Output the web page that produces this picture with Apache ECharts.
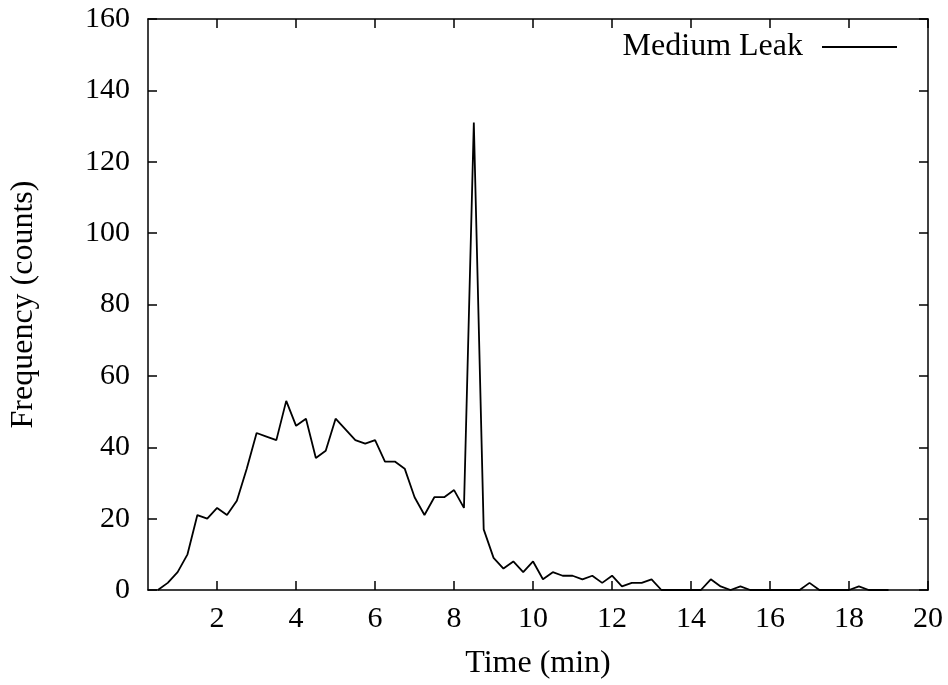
<!DOCTYPE html>
<html>
<head>
<meta charset="utf-8">
<script src="https://cdn.jsdelivr.net/npm/echarts@6/dist/echarts.min.js"></script>
<style>
  html, body { margin: 0; padding: 0; background: #fff; }
  #chart { width: 948px; height: 685px; }
</style>
</head>
<body>
<div id="chart"></div>
<script>
// time (min) of each count bin
const times = [
  0.5, 0.75, 1.0, 1.25, 1.5, 1.75, 2.0, 2.25, 2.5, 2.75,
  3.0, 3.25, 3.5, 3.75, 4.0, 4.25, 4.5, 4.75, 5.0, 5.25,
  5.5, 5.75, 6.0, 6.25, 6.5, 6.75, 7.0, 7.25, 7.5, 7.75,
  8.0, 8.25, 8.5, 8.75, 9.0, 9.25, 9.5, 9.75, 10.0, 10.25,
  10.5, 10.75, 11.0, 11.25, 11.5, 11.75, 12.0, 12.25, 12.5, 12.75,
  13.0, 13.25, 13.5, 13.75, 14.0, 14.25, 14.5, 14.75, 15.0, 15.25,
  15.5, 15.75, 16.0, 16.25, 16.5, 16.75, 17.0, 17.25, 17.5, 17.75,
  18.0, 18.25, 18.5, 18.75, 19.0
];
// frequency (counts), medium leak
const counts = [
  0, 2, 5, 10, 21, 20, 23, 21, 25, 34,
  44, 43, 42, 53, 46, 48, 37, 39, 48, 45,
  42, 41, 42, 36, 36, 34, 26, 21, 26, 26,
  28, 23, 131, 17, 9, 6, 8, 5, 8, 3,
  5, 4, 4, 3, 4, 2, 4, 1, 2, 2,
  3, 0, 0, 0, 0, 0, 3, 1, 0, 1,
  0, 0, 0, 0, 0, 0, 2, 0, 0, 0,
  0, 1, 0, 0, 0
];
const xTicks = [2, 4, 6, 8, 10, 12, 14, 16, 18, 20];
const seriesName = 'Medium Leak';

const chart = echarts.init(document.getElementById('chart'));
const font = 'Liberation Serif';

const lineData = times.map((t, i) => [t, counts[i]]);

const xBase = {
  type: 'value',
  min: 0.25,
  max: 20,
  splitLine: { show: false },
  axisLine: { show: true, onZero: false, lineStyle: { color: '#000', width: 1.5 } },
  axisTick: { inside: true, length: 9, customValues: xTicks, lineStyle: { color: '#000', width: 1.5 } }
};
const yBase = {
  type: 'value',
  min: 0,
  max: 160,
  interval: 20,
  splitLine: { show: false },
  axisLine: { show: true, onZero: false, lineStyle: { color: '#000', width: 1.5 } },
  axisTick: { inside: true, length: 9, lineStyle: { color: '#000', width: 1.5 } }
};

const option = {
  backgroundColor: '#fff',
  animation: false,
  textStyle: { fontFamily: font },
  grid: { left: 146, right: 20, top: 19, bottom: 92, containLabel: false },
  legend: {
    right: 51,
    top: 31,
    padding: 0,
    align: 'right',
    icon: 'rect',
    itemWidth: 75,
    itemHeight: 2,
    itemGap: 0,
    itemStyle: { color: '#000', borderWidth: 0 },
    textStyle: { fontFamily: font, fontSize: 32, color: '#000', padding: [0, 14, 0, 0] },
    data: [seriesName]
  },
  xAxis: [
    Object.assign({}, xBase, {
      position: 'bottom',
      name: 'Time (min)',
      nameLocation: 'middle',
      nameGap: 58,
      nameTextStyle: { fontFamily: font, fontSize: 32, color: '#000' },
      axisLabel: { customValues: xTicks, margin: 14, fontFamily: font, fontSize: 30, color: '#000' }
    }),
    Object.assign({}, xBase, {
      position: 'top',
      axisLabel: { show: false }
    })
  ],
  yAxis: [
    Object.assign({}, yBase, {
      position: 'left',
      name: 'Frequency (counts)',
      nameLocation: 'middle',
      nameGap: 108,
      nameTextStyle: { fontFamily: font, fontSize: 32, color: '#000' },
      axisLabel: { margin: 18, fontFamily: font, fontSize: 30, color: '#000' }
    }),
    Object.assign({}, yBase, {
      position: 'right',
      axisLabel: { show: false }
    })
  ],
  series: [
    {
      name: seriesName,
      type: 'line',
      xAxisIndex: 0,
      yAxisIndex: 0,
      data: lineData,
      symbol: 'none',
      lineStyle: { color: '#000', width: 1.8 },
      itemStyle: { color: '#000' }
    }
  ]
};

chart.setOption(option);
</script>
</body>
</html>
